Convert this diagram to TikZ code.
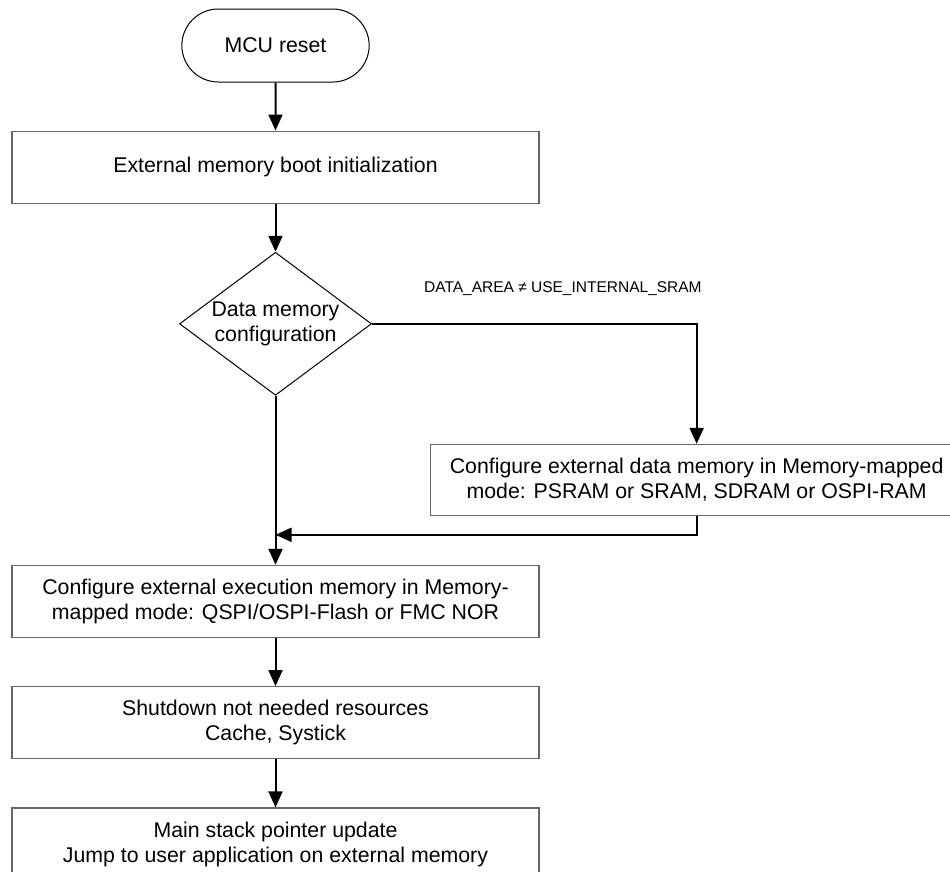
\documentclass[tikz,border=0pt]{standalone}
\usepackage{fontspec}
\setmainfont{Liberation Sans}
\usetikzlibrary{positioning,arrows.meta,shapes.geometric,shapes.misc}

\begin{document}
\begin{tikzpicture}
    [x=1pt,y=-1pt,node distance=48pt,
     font=\fontsize{21.3pt}{25pt}\selectfont,
     proc/.style={rectangle,draw=black!60,line width=1.3pt,minimum width=527pt,minimum height=72pt,align=center},
     term/.style={rounded rectangle,draw,line width=1pt,minimum width=194pt,minimum height=73pt},
     decision/.style={diamond,draw,line width=1pt,aspect=1.34,inner sep=0pt,minimum width=192pt,minimum height=143pt,align=center},
     flow/.style={-{Triangle[length=16pt,width=14pt]},line width=2pt},
     cond/.style={font=\fontsize{15.5pt}{18pt}\selectfont,inner sep=0pt}]

    \useasboundingbox (0,0) rectangle (950,871);
    \clip (0,0) rectangle (950,871);

    \node[term] (reset) at (275.5,45.5) {MCU reset};
    \node[proc] (init) [below=of reset] {External memory boot initialization};
    \node[decision] (decide) [below=of init] {Data memory\\configuration};

    \node[proc,minimum width=532pt,minimum height=71pt,anchor=north west] (datamem)
      [below right=120pt and 58pt of decide.east]
      {Configure external data memory in Memory-mapped\\mode: PSRAM or SRAM, SDRAM or OSPI-RAM};

    \node[proc] (exec) [below=169pt of decide]
      {Configure external execution memory in Memory-\\mapped mode: QSPI/OSPI-Flash or FMC NOR};
    \node[proc] (shut) [below=of exec] {Shutdown not needed resources\\Cache, Systick};
    \node[proc] (jump) [below=of shut] {Main stack pointer update\\Jump to user application on external memory};

    \coordinate[above=30pt of exec.north] (merge);

    \draw[flow] (reset) -- (init);
    \draw[flow] (init) -- (decide);
    \draw[flow] (decide.east) -| node[cond,pos=0.294,above=27pt] {DATA\_AREA ≠ USE\_INTERNAL\_SRAM} (datamem.north);
    \draw[flow] (decide.south) -- (exec.north);
    \draw[flow] (datamem.south) |- (merge);
    \draw[flow] (exec) -- (shut);
    \draw[flow] (shut) -- (jump);
  \end{tikzpicture}
\end{document}
